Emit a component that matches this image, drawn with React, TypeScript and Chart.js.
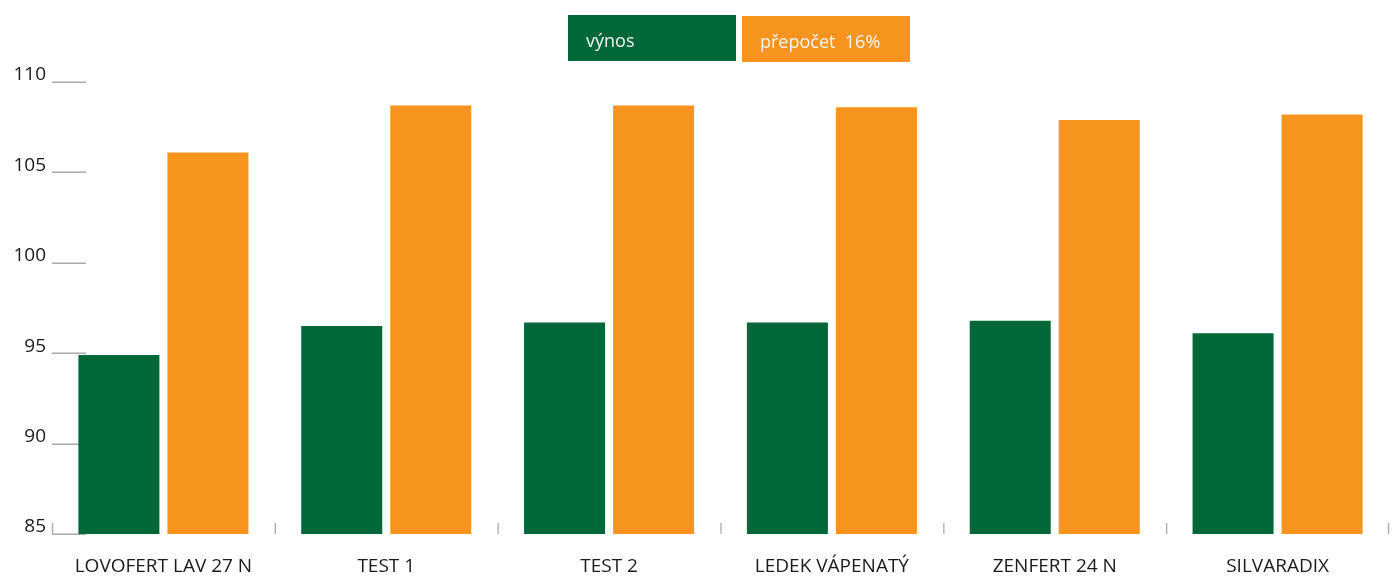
import React, { useEffect, useRef } from "react";
import { Chart, registerables } from "chart.js";

Chart.register(...registerables);

const categories = ["LOVOFERT LAV 27 N", "TEST 1", "TEST 2", "LEDEK VÁPENATÝ", "ZENFERT 24 N", "SILVARADIX"];
const vynos = [94.9, 96.5, 96.7, 96.7, 96.8, 96.1];
const prepocet = [106.1, 108.7, 108.7, 108.6, 107.9, 108.2];
const seriesLabels = ["výnos", "přepočet  16%"];
const yMin = 85;
const yMax = 110;
const yStep = 5;

const GREEN = "#006838";
const ORANGE = "#F7941E";
const FONT = "'Open Sans', 'Noto Sans', sans-serif";

const decorPlugin = {
  id: "decor",
  beforeDatasetsDraw(chart: any) {
    const ctx = chart.ctx;
    const area = chart.chartArea;
    const y = chart.scales.y;
    ctx.save();
    ctx.strokeStyle = "#aaaaaa";
    ctx.lineWidth = 1.5;
    y.ticks.forEach((t: any) => {
      const py = Math.round(y.getPixelForValue(t.value)) + 0.25;
      ctx.beginPath();
      ctx.moveTo(area.left, py);
      ctx.lineTo(area.left + 34, py);
      ctx.stroke();
    });
    ctx.lineWidth = 1.3;
    const n = categories.length;
    const w = (area.right - area.left) / n;
    for (let i = 0; i <= n; i++) {
      const px = Math.min(area.left + i * w, area.right - 1) + 0.5;
      ctx.beginPath();
      ctx.moveTo(px, area.bottom - 11);
      ctx.lineTo(px, area.bottom);
      ctx.stroke();
    }
    ctx.restore();
  },
  afterDraw(chart: any) {
    const ctx = chart.ctx;
    const boxes = [
      { x: 568, y: 15, w: 168, h: 46 },
      { x: 742, y: 16, w: 168, h: 46 },
    ];
    ctx.save();
    chart.data.datasets.forEach((ds: any, i: number) => {
      const b = boxes[i];
      ctx.fillStyle = ds.backgroundColor;
      ctx.fillRect(b.x, b.y, b.w, b.h);
      ctx.fillStyle = "#f4f4f4";
      ctx.font = `18px ${FONT}`;
      ctx.textBaseline = "alphabetic";
      ctx.textAlign = "left";
      ctx.fillText(ds.label, b.x + 18, b.y + 32);
    });
    ctx.restore();
  },
};

export default function App() {
  const ref = useRef<HTMLCanvasElement>(null);
  useEffect(() => {
    document.body.style.margin = "0";
    const chart = new Chart(ref.current as HTMLCanvasElement, {
      type: "bar",
      data: {
        labels: categories,
        datasets: [
          { label: seriesLabels[0], data: vynos, backgroundColor: GREEN, categoryPercentage: 0.799, barPercentage: 0.91 },
          { label: seriesLabels[1], data: prepocet, backgroundColor: ORANGE, categoryPercentage: 0.799, barPercentage: 0.91 },
        ],
      },
      options: {
        animation: false,
        responsive: false,
        devicePixelRatio: 1,
        layout: { padding: { top: 82, right: 3, left: 0, bottom: 0 } },
        plugins: { legend: { display: false }, tooltip: { enabled: false }, title: { display: false } },
        scales: {
          x: {
            grid: { display: false, drawTicks: false, tickLength: 0 },
            border: { display: false },
            ticks: { color: "#1a1a1a", font: { family: FONT, size: 19 }, padding: 21, maxRotation: 0, autoSkip: false },
            afterFit: (s: any) => { s.height = 43; },
          },
          y: {
            min: yMin,
            max: yMax,
            grid: { display: false, drawTicks: false, tickLength: 0 },
            border: { display: false },
            ticks: { stepSize: yStep, color: "#1a1a1a", font: { family: FONT, size: 19 }, padding: 6, labelOffset: -7 },
            afterFit: (s: any) => { s.width = 52; },
          },
        },
      },
      plugins: [decorPlugin],
    });
    return () => chart.destroy();
  }, []);
  return (
    <div style={{ position: "fixed", left: 0, top: 0, width: 1392, height: 577, background: "#fff" }}>
      <canvas ref={ref} width={1392} height={577} style={{ display: "block" }} />
    </div>
  );
}
